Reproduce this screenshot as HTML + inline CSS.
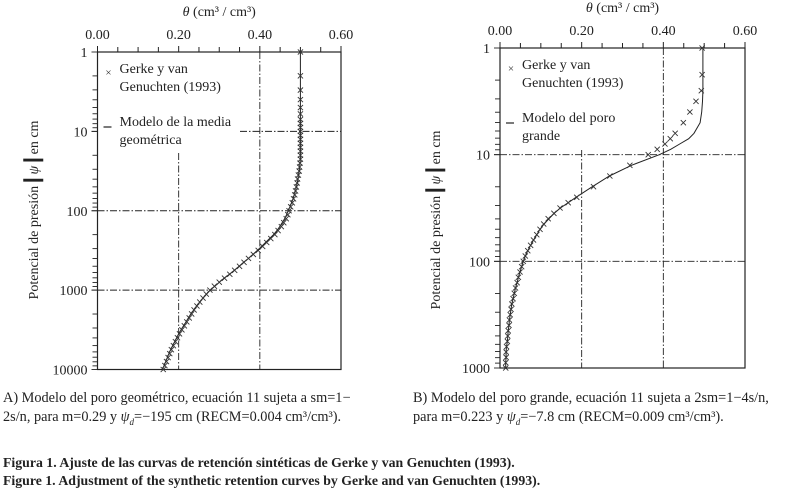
<!DOCTYPE html>
<html><head><meta charset="utf-8"><style>
body{margin:0;background:#fff;width:790px;height:490px;overflow:hidden;font-family:"Liberation Serif",serif;color:#222}
svg{position:absolute;left:0;top:0}
.cap{position:absolute;font-size:14.3px;line-height:19px;white-space:nowrap}
.fig{position:absolute;font-size:13.8px;font-weight:bold;line-height:18px;white-space:nowrap}
</style></head><body>
<svg id="chart" width="790" height="380"></svg>
<div class="cap" style="left:3px;top:389px">A) Modelo del poro geométrico, ecuación 11 sujeta a sm=1−<br>2s/n, para m=0.29 y <i>ψ<sub style="font-size:9px">d</sub></i>=−195 cm (RECM=0.004 cm³/cm³).</div>
<div class="cap" style="left:413px;top:389px">B) Modelo del poro grande, ecuación 11 sujeta a 2sm=1−4s/n,<br>para m=0.223 y <i>ψ<sub style="font-size:9px">d</sub></i>=−7.8 cm (RECM=0.009 cm³/cm³).</div>
<div class="fig" style="left:3px;top:454px">Figura 1. Ajuste de las curvas de retención sintéticas de Gerke y van Genuchten (1993).</div>
<div class="fig" style="left:3px;top:472px">Figure 1. Adjustment of the synthetic retention curves by Gerke and van Genuchten (1993).</div>
<script>
// Left chart data (log10 psi, theta)
const leftLogPsi=[0,0.3,0.48,0.6,0.7,0.78,0.85,0.9,0.95,1.0,1.05,1.1,1.15,1.2,1.25,1.3,1.35,1.4,1.45,1.5,1.55,1.6,1.65,1.7,1.75,1.8,1.85,1.9,1.95,2.0,2.05,2.1,2.15,2.2,2.25,2.3,2.35,2.4,2.45,2.5,2.55,2.6,2.65,2.7,2.75,2.8,2.85,2.9,2.95,3.0,3.05,3.1,3.15,3.2,3.25,3.3,3.35,3.4,3.45,3.5,3.55,3.6,3.65,3.7,3.75,3.8,3.85,3.9,3.95,4.0];
const leftMarkers=[0.5,0.5,0.5,0.5,0.5,0.5,0.5,0.5,0.5,0.5,0.5,0.5,0.5,0.5,0.5,0.5,0.5,0.499,0.498,0.497,0.495,0.493,0.492,0.49,0.488,0.486,0.483,0.48,0.476,0.472,0.469,0.465,0.459,0.453,0.445,0.437,0.427,0.417,0.407,0.396,0.384,0.372,0.361,0.35,0.338,0.326,0.313,0.3,0.288,0.277,0.268,0.26,0.252,0.245,0.238,0.232,0.226,0.22,0.214,0.208,0.202,0.197,0.192,0.187,0.182,0.178,0.174,0.17,0.166,0.162];
const leftModel=[0.5,0.5,0.5,0.5,0.5,0.5,0.5,0.5,0.5,0.5,0.5,0.5,0.5,0.5,0.5,0.5,0.5,0.499,0.498,0.497,0.495,0.494,0.492,0.49,0.488,0.485,0.482,0.478,0.474,0.47,0.466,0.461,0.455,0.449,0.442,0.434,0.424,0.414,0.404,0.394,0.383,0.372,0.36,0.349,0.337,0.325,0.312,0.3,0.289,0.278,0.269,0.26,0.252,0.244,0.237,0.23,0.224,0.218,0.212,0.206,0.2,0.195,0.19,0.185,0.18,0.176,0.172,0.168,0.164,0.16];
// Right chart data
const rightLogPsi=[0,0.25,0.4,0.5,0.6,0.7,0.8,0.85,0.9,0.95,1.0,1.1,1.2,1.3,1.4,1.45,1.5,1.55,1.6,1.65,1.7,1.75,1.8,1.85,1.9,1.95,2.0,2.05,2.1,2.15,2.2,2.25,2.3,2.35,2.4,2.45,2.5,2.55,2.6,2.65,2.7,2.75,2.8,2.85,2.9,2.95,3.0];
const rightMarkers=[0.495,0.495,0.493,0.48,0.465,0.449,0.429,0.417,0.404,0.385,0.363,0.318,0.269,0.229,0.188,0.167,0.147,0.132,0.118,0.107,0.098,0.09,0.082,0.075,0.068,0.062,0.057,0.053,0.049,0.045,0.042,0.038,0.035,0.032,0.029,0.027,0.025,0.023,0.022,0.02,0.019,0.018,0.016,0.015,0.015,0.014,0.014];
const rightModel=[0.497,0.497,0.497,0.496,0.494,0.49,0.475,0.462,0.44,0.418,0.39,0.322,0.268,0.226,0.186,0.167,0.148,0.133,0.12,0.108,0.098,0.09,0.082,0.075,0.068,0.062,0.057,0.053,0.049,0.045,0.042,0.038,0.035,0.032,0.029,0.027,0.025,0.023,0.022,0.02,0.019,0.018,0.016,0.015,0.015,0.014,0.014];
const xTicks=["0.00","0.20","0.40","0.60"];
const leftYLabels=["1","10","100","1000","10000"];
const rightYLabels=["1","10","100","1000"];

const NS="http://www.w3.org/2000/svg";
const svg=document.getElementById('chart');
function mk(tag,attrs,parent){const e=document.createElementNS(NS,tag);for(const k in attrs)e.setAttribute(k,attrs[k]);(parent||svg).appendChild(e);return e;}

function drawChart(cfg){
  const g=mk('g',{});
  
  
  const X=v=>cfg.x0+(cfg.x1-cfg.x0)*v/0.6;
  const Y=l=>cfg.y0+(cfg.y1-cfg.y0)*l/cfg.decades;
  const dash='7 2 1.5 2';
  [0.2,0.4].forEach((v,i)=>{const l=mk('line',{x1:X(v),x2:X(v),y1:cfg.vStart[i],y2:cfg.y1,stroke:'#222','stroke-width':0.9,'stroke-dasharray':dash},g);
    });
  for(let d=1;d<cfg.decades;d++){const l=mk('line',{x1:cfg.hStart[d-1],x2:cfg.x1,y1:Y(d),y2:Y(d),stroke:'#222','stroke-width':0.9,'stroke-dasharray':dash},g);
    }
  const fr=mk('rect',{x:cfg.x0,y:cfg.y0,width:cfg.x1-cfg.x0,height:cfg.y1-cfg.y0,fill:'none',stroke:'#222','stroke-width':1.2},g);
  
  for(let i=0;i<=12;i++){const v=i*0.05;const len=i%4==0?6:5;mk('line',{x1:X(v),x2:X(v),y1:cfg.y0,y2:cfg.y0-len,stroke:'#222','stroke-width':1},g);}
  xTicks.forEach((t,i)=>{const tx=mk('text',{x:X(i*0.2),y:cfg.y0-13,'text-anchor':'middle','font-size':14,fill:'#222'},g);tx.textContent=t;
    });
  const xt=mk('text',{x:(cfg.x0+cfg.x1)/2,y:cfg.y0-36,'text-anchor':'middle','font-size':14,fill:'#222'},g);
  xt.innerHTML='<tspan font-style="italic">θ</tspan>  (cm³ / cm³)';
  
  for(let d=0;d<cfg.decades;d++){for(let k=1;k<=10;k++){const l=d+Math.log10(k);const len=(k==1||k==10)?6:5;mk('line',{x1:cfg.x0,x2:cfg.x0-len,y1:Y(l),y2:Y(l),stroke:'#222','stroke-width':0.9},g);}}
  cfg.yLabels.forEach((t,i)=>{const tx=mk('text',{x:cfg.x0-10,y:Y(i)+5,'text-anchor':'end','font-size':14,fill:'#222'},g);tx.textContent=t;
    });
  const yt=mk('text',{transform:`translate(${cfg.yTitleX},${cfg.yTitleY}) rotate(-90)`,'text-anchor':'middle','font-size':14,fill:'#222'},g);
  yt.innerHTML='Potencial de presión <tspan font-weight="bold" font-size="20" stroke="#222" stroke-width="1.5">|</tspan><tspan font-style="italic"> ψ </tspan><tspan font-weight="bold" font-size="20" stroke="#222" stroke-width="1.5">|</tspan> en cm';
  
  mk('rect',{x:cfg.x0+2,y:cfg.y0+2,width:cfg.legW,height:cfg.legH,fill:'#fff'},g);
  const lg=mk('g',{},g);
  const lx=cfg.x0+14;
  const mx=mk('text',{x:lx-3,y:cfg.y0+24,'font-size':11,fill:'#333','text-anchor':'middle'},lg);mx.textContent='×';
  const t1=mk('text',{x:lx+8,y:cfg.y0+21,'font-size':14,fill:'#222'},lg);t1.textContent='Gerke y van';
  const t2=mk('text',{x:lx+8,y:cfg.y0+39,'font-size':14,fill:'#222'},lg);t2.textContent='Genuchten (1993)';
  mk('line',{x1:lx-8,x2:lx,y1:cfg.y0+75,y2:cfg.y0+75,stroke:'#222','stroke-width':1.2},lg);
  const t3=mk('text',{x:lx+8,y:cfg.y0+74,'font-size':14,fill:'#222'},lg);t3.textContent=cfg.leg1;
  const t4=mk('text',{x:lx+8,y:cfg.y0+92,'font-size':14,fill:'#222'},lg);t4.textContent=cfg.leg2;
  const pts=cfg.logPsi.map((l,i)=>X(cfg.model[i]).toFixed(1)+','+Y(l).toFixed(1)).join(' ');
  const pl=mk('polyline',{points:pts,fill:'none',stroke:'#222','stroke-width':1},g);
  
  cfg.logPsi.forEach((l,i)=>{const x=X(cfg.markers[i]),y=Y(l),s=2.6;
    const m=mk('path',{d:`M${x-s},${y-s}L${x+s},${y+s}M${x-s},${y+s}L${x+s},${y-s}`,stroke:'#333','stroke-width':0.9},g);
    });
}
drawChart({name:'chart-a',x0:97.5,x1:341,y0:52,y1:369.5,decades:4,yLabels:leftYLabels,logPsi:leftLogPsi,markers:leftMarkers,model:leftModel,
  vStart:[153,52],hStart:[240,97.5,97.5],legW:136,legH:96,leg1:'Modelo de la media',leg2:'geométrica',yTitleX:38,yTitleY:210});
drawChart({name:'chart-b',x0:500,x1:745,y0:48,y1:368,decades:3,yLabels:rightYLabels,logPsi:rightLogPsi,markers:rightMarkers,model:rightModel,
  vStart:[150,48],hStart:[500,500],legW:130,legH:92,leg1:'Modelo del poro',leg2:'grande',yTitleX:440,yTitleY:220});
</script>
</body></html>
